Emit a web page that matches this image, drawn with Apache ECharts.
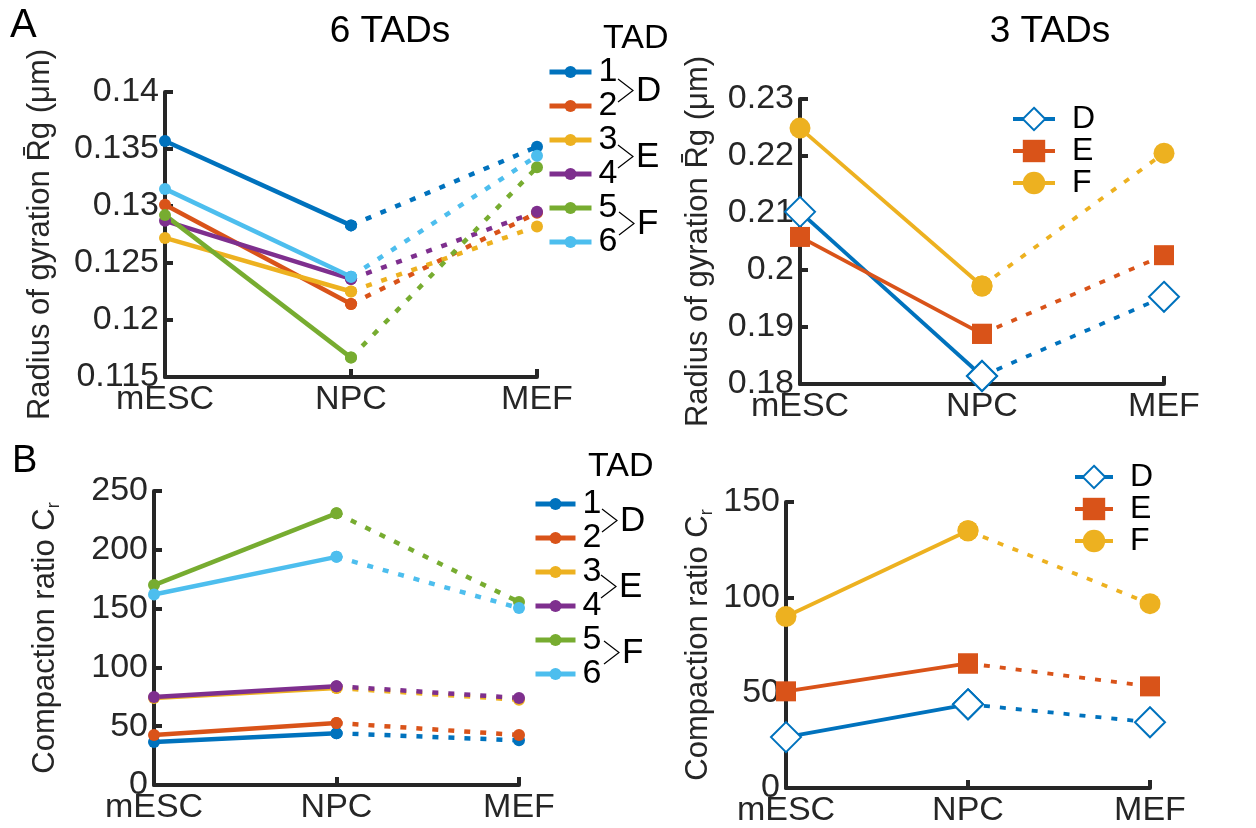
<!DOCTYPE html>
<html>
<head>
<meta charset="utf-8">
<script src="https://cdn.jsdelivr.net/npm/echarts@6/dist/echarts.min.js"></script>
<style>
  html, body { margin: 0; padding: 0; background: #fff; }
  #chart { width: 1256px; height: 828px; }
</style>
</head>
<body>
<div id="chart"></div>
<script>
// stages on the x axis
const stages = ['mESC', 'NPC', 'MEF'];

// radius of gyration, 6 TADs (um)
const rgTAD1 = [0.1357, 0.1283, 0.1352];
const rgTAD2 = [0.1301, 0.1214, 0.1294];
const rgTAD3 = [0.1272, 0.1225, 0.1282];
const rgTAD4 = [0.1287, 0.1236, 0.1295];
const rgTAD5 = [0.1292, 0.1167, 0.1334];
const rgTAD6 = [0.1315, 0.1238, 0.1344];
// radius of gyration, 3 TADs
const rgD = [0.2102, 0.1814, 0.1953];
const rgE = [0.2058, 0.1888, 0.2026];
const rgF = [0.2249, 0.1972, 0.2205];
// compaction ratio, 6 TADs
const crTAD1 = [36.6, 44.0, 38.0];
const crTAD2 = [42.5, 52.7, 42.5];
const crTAD3 = [74.0, 82.5, 72.5];
const crTAD4 = [74.8, 84.0, 74.0];
const crTAD5 = [170.0, 231.0, 155.6];
const crTAD6 = [162.0, 194.0, 150.5];
// compaction ratio, 3 TADs
const crD = [26.7, 43.9, 34.5];
const crE = [50.7, 65.3, 53.3];
const crF = [89.9, 134.9, 96.7];

const tadNames = ['1', '2', '3', '4', '5', '6'];
const groupNames = ['D', 'E', 'F'];

// y axis ranges [min, max, interval]
const rg6Range = [0.115, 0.14, 0.005];
const rg3Range = [0.18, 0.23, 0.01];
const cr6Range = [0, 250, 50];
const cr3Range = [0, 150, 50];

const colors = ['#0072BD', '#D95319', '#EDB120', '#7E2F8E', '#77AC30', '#4DBEEE'];
const FONT = '"Liberation Sans", Arial, Helvetica, sans-serif';
const AXC = '#262626';

let chart = echarts.init(document.getElementById('chart'));

// one solid piece mESC->NPC and one dashed piece NPC->MEF
function pair(name, vals, color, g, symbol, size, width) {
  let base = {
    type: 'line', xAxisIndex: g, yAxisIndex: g,
    symbol: symbol, symbolSize: size, showSymbol: true,
    itemStyle: { color: color, borderWidth: symbol.indexOf('empty') === 0 ? 2.5 : 0 },
    emphasis: { disabled: true }, silent: true
  };
  return [
    Object.assign({}, base, {
      name: name,
      data: [vals[0], vals[1], '-'],
      lineStyle: { color: color, width: width }
    }),
    Object.assign({}, base, {
      name: name + ' ',
      data: ['-', vals[1], vals[2]],
      lineStyle: { color: color, width: width, type: [6, 10], cap: 'butt' }
    })
  ];
}

function xAxis(g) {
  return {
    type: 'category', gridIndex: g, data: stages, boundaryGap: false,
    axisLine: { lineStyle: { color: AXC, width: 4 } },
    axisTick: { inside: true, length: 8, lineStyle: { color: AXC, width: 4 } },
    axisLabel: { color: AXC, fontSize: 34, fontFamily: FONT, margin: 6 },
    splitLine: { show: false }
  };
}

function yAxis(g, r, name, gap, rich) {
  return {
    type: 'value', gridIndex: g, min: r[0], max: r[1], interval: r[2],
    name: name, nameLocation: 'middle', nameGap: gap,
    nameTextStyle: Object.assign({ color: AXC, fontSize: 31, fontFamily: FONT }, rich ? { rich: rich } : {}),
    axisLine: { show: true, lineStyle: { color: AXC, width: 4 } },
    axisTick: { show: true, inside: true, length: 8, lineStyle: { color: AXC, width: 4 } },
    axisLabel: {
      color: AXC, fontSize: 34, fontFamily: FONT, margin: 6,
      formatter: function (v) { return String(+v.toFixed(3)); }
    },
    splitLine: { show: false }
  };
}

const crRich = {
  a: { fontSize: 31, fontFamily: FONT, color: AXC, lineHeight: 36 },
  s: { fontSize: 18, fontFamily: FONT, color: AXC, lineHeight: 20, verticalAlign: 'bottom' }
};

let series = [];
const rg6 = [rgTAD1, rgTAD2, rgTAD3, rgTAD4, rgTAD5, rgTAD6];
const cr6 = [crTAD1, crTAD2, crTAD3, crTAD4, crTAD5, crTAD6];
rg6.forEach((v, i) => { series = series.concat(pair(tadNames[i], v, colors[i], 0, 'circle', 12, 4.5)); });
cr6.forEach((v, i) => { series = series.concat(pair(tadNames[i], v, colors[i], 2, 'circle', 12, 4.5)); });
const shapes = [['emptyDiamond', 30], ['rect', 20], ['circle', 21]];
[rgD, rgE, rgF].forEach((v, i) => { series = series.concat(pair(groupNames[i], v, colors[i], 1, shapes[i][0], shapes[i][1], 3.8)); });
[crD, crE, crF].forEach((v, i) => { series = series.concat(pair(groupNames[i], v, colors[i], 3, shapes[i][0], shapes[i][1], 3.8)); });

function legend(left, top, names, w, h, lh, textPad, lw, fs) {
  return {
    orient: 'vertical', left: left, top: top, padding: 0, itemGap: 0,
    itemWidth: w, itemHeight: h, data: names, selectedMode: false,
    lineStyle: { width: lw },
    textStyle: { color: '#000', fontSize: fs, fontFamily: FONT, lineHeight: lh, padding: [0, 0, 0, textPad] }
  };
}

// bracket ">" joining two legend rows
function bracket(x, y1, y2, letter) {
  let ym = (y1 + y2) / 2;
  return [
    { type: 'polyline', shape: { points: [[x, y1], [x + 15, ym], [x, y2]] }, style: { stroke: '#000', lineWidth: 1.2, fill: null } },
    { type: 'text', x: x + 18, y: ym + 1, style: { text: letter, fontSize: 35, fontFamily: FONT, fill: '#000', verticalAlign: 'middle' } }
  ];
}

let graphics = [
  { type: 'text', x: 10, y: 26, style: { text: 'A', fontSize: 40, fontFamily: FONT, fill: '#000', verticalAlign: 'middle' } },
  { type: 'text', x: 12, y: 462, style: { text: 'B', fontSize: 38, fontFamily: FONT, fill: '#000', verticalAlign: 'middle' } },
  { type: 'text', x: 390, y: 32, style: { text: '6 TADs', fontSize: 37, fontFamily: FONT, fill: '#000', align: 'center', verticalAlign: 'middle' } },
  { type: 'text', x: 1050, y: 32, style: { text: '3 TADs', fontSize: 37, fontFamily: FONT, fill: '#000', align: 'center', verticalAlign: 'middle' } },
  { type: 'text', x: 603, y: 39, style: { text: 'TAD', fontSize: 34, fontFamily: FONT, fill: '#000', verticalAlign: 'middle' } },
  { type: 'text', x: 588, y: 467, style: { text: 'TAD', fontSize: 34, fontFamily: FONT, fill: '#000', verticalAlign: 'middle' } }
]
  .concat(bracket(618, 79, 102, 'D'), bracket(618, 145, 168, 'E'), bracket(619, 212, 235, 'F'))
  .concat(bracket(602, 509, 532, 'D'), bracket(601, 575, 598, 'E'), bracket(604, 641, 664, 'F'));

let option = {
  animation: false,
  backgroundColor: '#fff',
  textStyle: { fontFamily: FONT },
  grid: [
    { left: 165, top: 92, width: 372, height: 285 },
    { left: 800, top: 99, width: 364, height: 285 },
    { left: 154, top: 491, width: 365, height: 294 },
    { left: 786, top: 502, width: 364, height: 287 }
  ],
  xAxis: [xAxis(0), xAxis(1), xAxis(2), xAxis(3)],
  yAxis: [
    yAxis(0, rg6Range, 'Radius of gyration R\u0304g (\u03bcm)', 109),
    yAxis(1, rg3Range, 'Radius of gyration R\u0304g (\u03bcm)', 86),
    yAxis(2, cr6Range, '{a|Compaction ratio C}{s|r}', 91, crRich),
    yAxis(3, cr3Range, '{a|Compaction ratio C}{s|r}', 70, crRich)
  ],
  legend: [
    legend(547, 55, tadNames, 42, 15, 33.6, 2, 5, 34),
    legend(533, 487, tadNames, 40, 15, 33.6, 2, 5, 34),
    legend(1011, 103, groupNames, 42, 28, 28, 12, 4, 32),
    legend(1073, 461, groupNames, 38, 28, 28, 12, 4, 32)
  ],
  graphic: graphics,
  series: series
};

chart.setOption(option);
</script>
</body>
</html>
